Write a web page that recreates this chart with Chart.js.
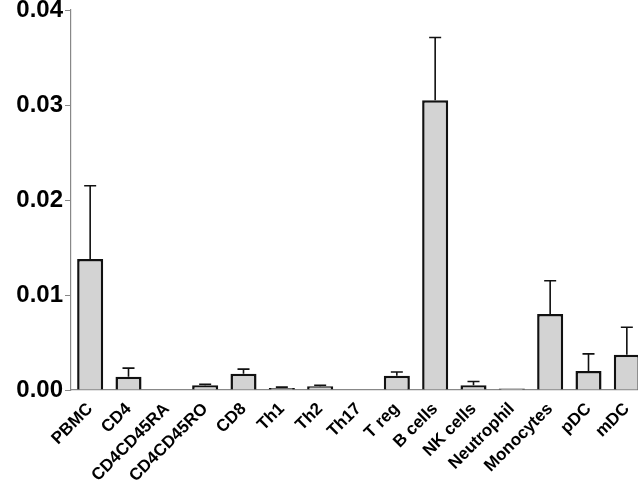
<!DOCTYPE html>
<html>
<head>
<meta charset="utf-8">
<script src="https://cdn.jsdelivr.net/npm/chart.js@4"></script>
<style>
  html, body { margin: 0; padding: 0; background: #fff; overflow: hidden; }
  #wrap { width: 646px; height: 482px; }
</style>
</head>
<body>
<div id="wrap"><canvas id="chart"></canvas></div>
<script>
const categories = ['PBMC', 'CD4', 'CD4CD45RA', 'CD4CD45RO', 'CD8', 'Th1', 'Th2', 'Th17',
  'T reg', 'B cells', 'NK cells', 'Neutrophil', 'Monocytes', 'pDC', 'mDC'];
const means = [0.0138, 0.0014, 0.00004, 0.0005, 0.0017, 0.0002, 0.0004, 0.00004,
  0.0015, 0.0305, 0.0005, 0.00016, 0.0080, 0.0020, 0.0037];
const errors = [0.0077, 0.0009, 0, 0.0001, 0.0005, 0.0001, 0.0001, 0,
  0.0004, 0.0066, 0.0004, 0, 0.0035, 0.0018, 0.0029];
const yTicks = [0, 0.01, 0.02, 0.03, 0.04];

// draws the upper error bar with a cap on each bar
const errorBars = {
  id: 'errorBars',
  afterDatasetsDraw(chart) {
    const ctx = chart.ctx;
    const meta = chart.getDatasetMeta(0);
    const y = chart.scales.y;
    ctx.save();
    ctx.strokeStyle = '#111';
    ctx.lineWidth = 1.6;
    meta.data.forEach((bar, i) => {
      if (!errors[i]) return;
      const top = y.getPixelForValue(means[i] + errors[i]);
      const base = y.getPixelForValue(means[i]);
      ctx.beginPath();
      ctx.moveTo(bar.x, base);
      ctx.lineTo(bar.x, top);
      ctx.moveTo(bar.x - 6, top);
      ctx.lineTo(bar.x + 6, top);
      ctx.stroke();
    });
    ctx.restore();
  }
};

new Chart(document.getElementById('chart'), {
  type: 'bar',
  data: {
    labels: categories,
    datasets: [{
      data: means,
      backgroundColor: '#d3d3d3',
      borderColor: '#111',
      borderWidth: 2.5,
      barPercentage: 0.68,
      categoryPercentage: 1.0
    }]
  },
  options: {
    responsive: true,
    maintainAspectRatio: false,
    animation: false,
    layout: { padding: { top: 10, right: 0, left: 0, bottom: 0 } },
    plugins: { legend: { display: false }, tooltip: { enabled: false } },
    scales: {
      x: {
        grid: { display: false, drawOnChartArea: false, tickLength: 6, color: '#888' },
        border: { color: '#888', width: 1.2 },
        ticks: {
          color: '#000',
          font: { family: 'Liberation Sans, Arial, sans-serif', size: 17, weight: 'bold' },
          minRotation: 45,
          maxRotation: 45,
          autoSkip: false,
          padding: 3
        },
        afterFit(scale) { scale.height = 92; scale.paddingLeft = 0; scale.paddingRight = 0; }
      },
      y: {
        min: 0,
        max: 0.04,
        grid: { drawOnChartArea: false, tickLength: 6, color: '#888' },
        border: { color: '#888', width: 1.2 },
        afterBuildTicks(scale) { scale.ticks = yTicks.map(v => ({ value: v })); },
        ticks: {
          color: '#000',
          padding: 2,
          font: { family: 'Liberation Sans, Arial, sans-serif', size: 24, weight: 'bold' },
          callback: v => v.toFixed(2)
        },
        afterFit(scale) { scale.width = 71; scale.paddingTop = 0; scale.paddingBottom = 0; }
      }
    }
  },
  plugins: [errorBars]
});
</script>
</body>
</html>
